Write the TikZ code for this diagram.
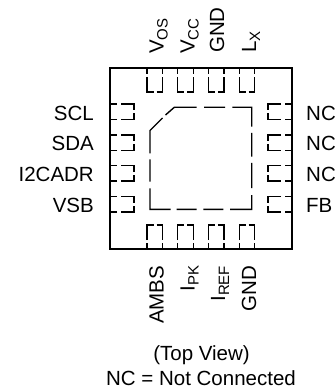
\documentclass[tikz,border=0pt]{standalone}
\usepackage{fontspec}
\setmainfont{Liberation Sans}
\newcommand{\pinsub}[2]{#1\raisebox{-0.2em}{\fontsize{15}{16}\selectfont #2}}
% pad whose edge runs along x: u = left end, o = outer line, s = +1/-1 inward direction
\newcommand{\padh}[3]{\draw[padline] (#1,#2)--(#1,{#2+6*#3}) (#1,{#2+9*#3})--(#1,{#2+24*#3})--({#1+6.5},{#2+24*#3}) ({#1+9.5},{#2+24*#3})--({#1+15.7},{#2+24*#3})--({#1+15.7},{#2+9*#3}) ({#1+15.7},{#2+6*#3})--({#1+15.7},#2);}
% pad whose edge runs along y
\newcommand{\padv}[3]{\draw[padline] (#2,#1)--({#2+7*#3},#1) ({#2+11*#3},#1)--({#2+24*#3},#1)--({#2+24*#3},{#1+6}) ({#2+24*#3},{#1+9.5})--({#2+24*#3},{#1+15.3})--({#2+11*#3},{#1+15.3}) ({#2+7*#3},{#1+15.3})--(#2,{#1+15.3});}
\tikzset{
  x=1pt,y=-1pt,
  outline/.style={line width=1.4pt,line cap=butt,line join=miter},
  padline/.style={line width=1.1pt,line join=miter},
  pin/.style={font=\fontsize{20.5}{22}\selectfont,inner sep=0pt},
  note/.style={font=\fontsize{20.5}{22}\selectfont,inner sep=0pt,anchor=base},
}
\begin{document}
\begin{tikzpicture}
\useasboundingbox (0,0) rectangle (335,387);
\draw[outline] (110,68) rectangle (292,249);
% inner die
\draw[outline] (162.5,118)--(150,130.5)--(150,153.3) (150,159.3)--(150,181.7) (150,188.3)--(150,209.3)--(170.7,209.3) (176.7,209.3)--(196.7,209.3) (203.3,209.3)--(223.3,209.3) (230,209.3)--(251.7,209.3)--(251.7,195) (251.7,188)--(251.7,163) (251.7,156.7)--(251.7,133) (251.7,126.7)--(251.7,107.3)--(232.3,107.3) (225,107.3)--(204,107.3) (196.7,107.3)--(174.3,107.3)--(165.5,115);
% pads
\foreach \u in {147,177.7,208.3,239.2}{
  \padh{\u}{68}{1}
  \padh{\u}{249}{-1}
}
\foreach \v in {104,135,165.7,196.7}{
  \padv{\v}{110}{1}
  \padv{\v}{292}{-1}
}
% left labels
\node[pin,anchor=base east] (scl) at (94,120.7) {SCL};
\node[pin,anchor=base east] (sda) at (94,151) {SDA};
\node[pin,anchor=base east] (i2c) at (94,181.7) {I2CADR};
\node[pin,anchor=base east] (vsb) at (94,212.3) {VSB};
% right labels
\node[pin,anchor=base west] (nca) at (306,120.7) {NC};
\node[pin,anchor=base west] (ncb) at (306,151) {NC};
\node[pin,anchor=base west] (ncc) at (306,181.7) {NC};
\node[pin,anchor=base west] (fb) at (306,212.3) {FB};
% top labels
\node[pin,rotate=90,anchor=base west] (vos) at (163.5,54) {\pinsub{V}{OS}};
\node[pin,rotate=90,anchor=base west] (vcc) at (194.5,54) {\pinsub{V}{CC}};
\node[pin,rotate=90,anchor=base west] (gndt) at (224,53) {GND};
\node[pin,rotate=90,anchor=base west] (lx) at (256,53) {\pinsub{L}{X}};
% bottom labels
\node[pin,rotate=90,anchor=base east] (ambs) at (163.5,265.7) {AMBS};
\node[pin,rotate=90,anchor=base east] (ipk) at (194.5,265.7) {\pinsub{I}{PK}};
\node[pin,rotate=90,anchor=base east] (iref) at (225,265.7) {\pinsub{I}{REF}};
\node[pin,rotate=90,anchor=base east] (gndb) at (256,265.7) {GND};
% notes
\node[note] (tv) at (201.5,360.5) {(Top View)};
\node[note] (nc) at (201,385.5) {NC = Not Connected};
\end{tikzpicture}
\end{document}
